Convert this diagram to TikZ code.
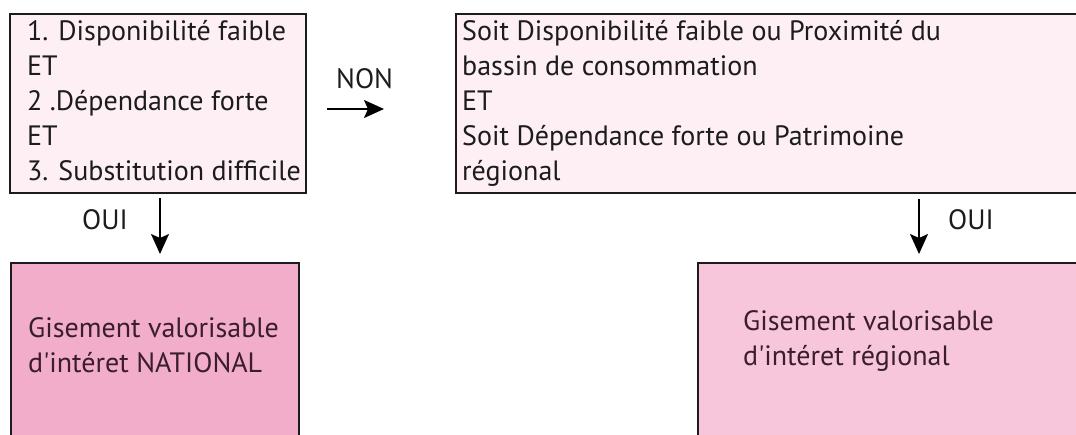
\documentclass[tikz,border=0pt]{standalone}
\usepackage{fontspec}
\setmainfont{PT Sans}
\usetikzlibrary{arrows.meta}
\definecolor{palepink}{HTML}{FDEFF3}
\definecolor{darkpink}{HTML}{F2ADCB}
\definecolor{midpink}{HTML}{F7C6DA}
\definecolor{inkdark}{HTML}{1C1C1C}
\definecolor{inkplum}{HTML}{3A1E2C}
\begin{document}
\begin{tikzpicture}[x=1pt,y=-1pt,
  boxshape/.style={draw=inkdark, line width=2.2pt, rectangle, inner sep=0pt, anchor=north west},
  txt/.style={inner sep=0pt, anchor=base west, font=\fontsize{28}{35}\selectfont, text=inkdark},
  txtplum/.style={txt, text=inkplum},
  arr/.style={line width=1.8pt, draw=black, -{Stealth[length=20pt,width=18pt,inset=4pt]}}]
\useasboundingbox (0,0) rectangle (1076,434);
\clip (0,0) rectangle (1076,434);
\fill[white] (0,0) rectangle (1076,434);
% boxes
\node[boxshape, fill=palepink, minimum width=296pt, minimum height=179pt] (b1) at (9,13) {};
\node[boxshape, fill=palepink, minimum width=700pt, minimum height=179pt] (b2) at (455,13) {};
\node[boxshape, fill=darkpink, minimum width=288pt, minimum height=260pt] (b3) at (10,262) {};
\node[boxshape, fill=midpink, minimum width=500pt, minimum height=260pt] (b4) at (697,262) {};
% box 1 text
\node[txt] (t11) at (27,40) {1. Disponibilité faible};
\node[txt] (t12) at (27,75) {ET};
\node[txt] (t13) at (27,110) {2 .Dépendance forte};
\node[txt] (t14) at (27,145) {ET};
\node[txt] (t15) at (27,180) {3. Substitution difficile};
% box 2 text
\node[txt] (t21) at (462,40) {Soit Disponibilité faible ou Proximité du};
\node[txt] (t22) at (462,75) {bassin de consommation};
\node[txt] (t23) at (462,110) {ET};
\node[txt] (t24) at (462,145) {Soit Dépendance forte ou Patrimoine};
\node[txt] (t25) at (462,180) {régional};
% box 3 text
\node[txtplum] (t31) at (28,337) {Gisement valorisable};
\node[txtplum] (t32) at (28,372) {d\textquotesingle intéret NATIONAL};
% box 4 text
\node[txtplum] (t41) at (743,330) {Gisement valorisable};
\node[txtplum] (t42) at (743,365) {d\textquotesingle intéret régional};
% labels
\node[txt] (non) at (336,88) {NON};
\node[txt] (oui1) at (82,229) {OUI};
\node[txt] (oui2) at (948,229) {OUI};
% arrows
\coordinate (n1) at (327,109);
\coordinate (n2) at (384,109);
\coordinate (o1s) at (160,198);
\coordinate (o1e) at (160,254);
\coordinate (o2s) at (919,199);
\coordinate (o2e) at (919,254);
\draw[arr] (n1) -- (n2);
\draw[arr] (o1s) -- (o1e);
\draw[arr] (o2s) -- (o2e);
\end{tikzpicture}
\end{document}
